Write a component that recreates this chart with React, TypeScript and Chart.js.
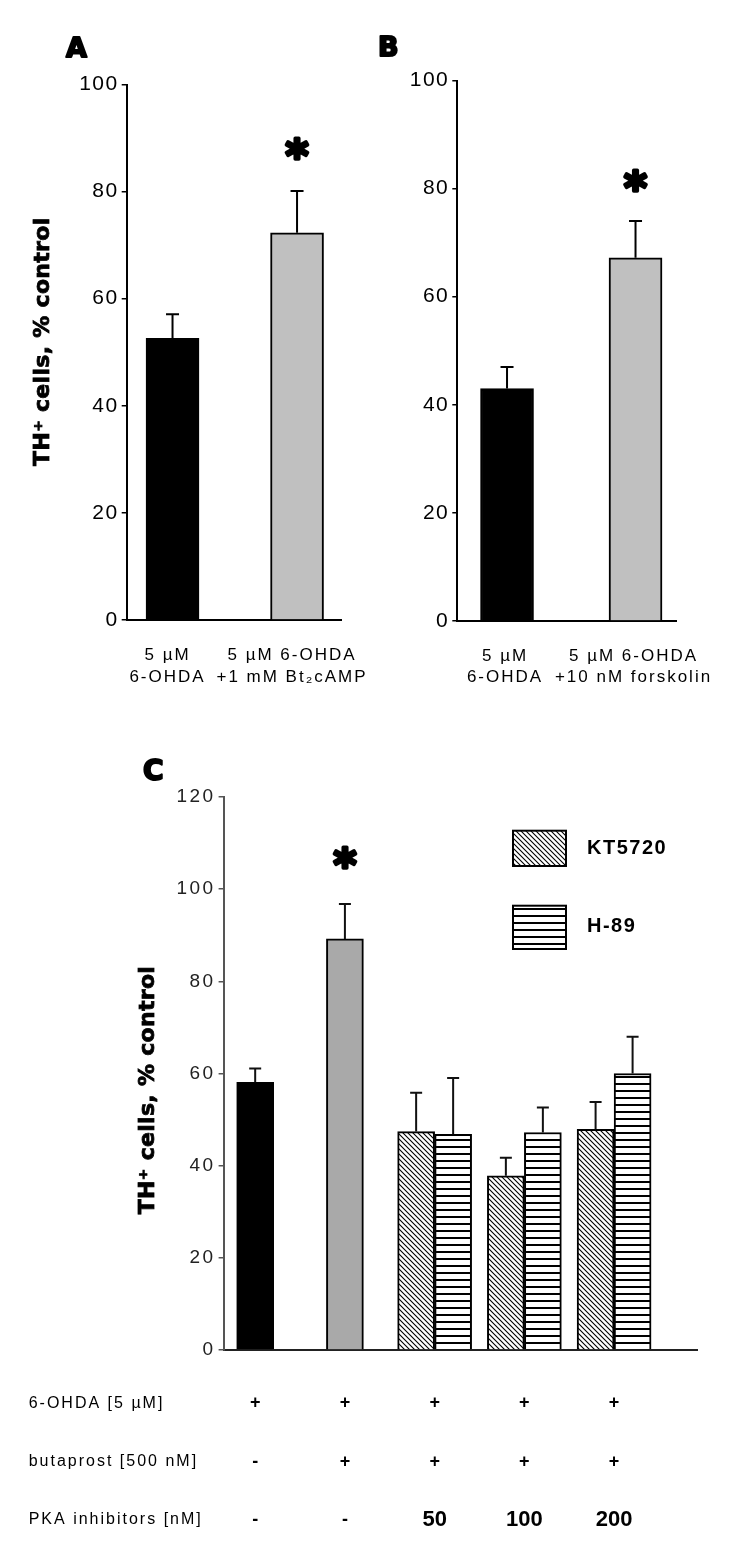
import React, { useEffect, useRef } from "react";
import { Chart, registerables } from "chart.js";

Chart.register(...registerables);

// ---------------- Panel A ----------------
const categoriesA = [["5 µM", "6-OHDA"], ["5 µM 6-OHDA", "+1 mM Bt₂cAMP"]];
const valuesA = [52.6, 72.3];
const semA = [4.5, 7.8];
const significantA = [false, true];

// ---------------- Panel B ----------------
const categoriesB = [["5 µM", "6-OHDA"], ["5 µM 6-OHDA", "+10 nM forskolin"]];
const valuesB = [43.0, 67.2];
const semB = [4.0, 6.8];
const significantB = [false, true];

// ---------------- Panel C ----------------
const singleC = [58.1, 89.2, null, null, null];
const singleSemC = [3.0, 7.6, null, null, null];
const kt5720C = [null, null, 47.4, 37.8, 47.9];
const kt5720SemC = [null, null, 8.4, 3.9, 5.9];
const h89C = [null, null, 46.8, 47.2, 60.0];
const h89SemC = [null, null, 12.2, 5.4, 8.0];
const significantC = [false, true, false, false, false];

const seriesNamesC = ["KT5720", "H-89"];
const rowLabelsC = ["6-OHDA [5 µM]", "butaprost [500 nM]", "PKA inhibitors [nM]"];
const ohdaRowC = ["+", "+", "+", "+", "+"];
const butaprostRowC = ["-", "+", "+", "+", "+"];
const pkaRowC = ["-", "-", "50", "100", "200"];

const yTitle = "TH⁺ cells, % control";
const ticksAB = { min: 0, max: 100, step: 20 };
const ticksC = { min: 0, max: 120, step: 20 };

// ---------------- helpers ----------------
const SANS = '"Liberation Sans", Arial, sans-serif';
const HEAVY = '"DejaVu Sans", "Liberation Sans", sans-serif';

function makePattern(ctx: CanvasRenderingContext2D, kind: string) {
  const c = document.createElement("canvas");
  const g = c.getContext("2d") as CanvasRenderingContext2D;
  if (kind === "diag") {
    const s = 5;
    c.width = s;
    c.height = s;
    g.fillStyle = "#fff";
    g.fillRect(0, 0, s, s);
    g.strokeStyle = "#000";
    g.lineWidth = 1.1;
    g.beginPath();
    g.moveTo(-1, -1);
    g.lineTo(s + 1, s + 1);
    g.moveTo(-1, s - 1);
    g.lineTo(1, s + 1);
    g.moveTo(s - 1, -1);
    g.lineTo(s + 1, 1);
    g.stroke();
  } else {
    c.width = 8;
    c.height = 7;
    g.fillStyle = "#fff";
    g.fillRect(0, 0, 8, 7);
    g.fillStyle = "#000";
    g.fillRect(0, 0, 8, 2);
  }
  return ctx.createPattern(c, "repeat") as CanvasPattern;
}

function drawText(
  ctx: any,
  s: string,
  x: number,
  y: number,
  font: string,
  align: string = "center",
  color: string = "#000",
  spacing: string = "0px"
) {
  ctx.save();
  ctx.font = font;
  ctx.textAlign = align;
  ctx.textBaseline = "middle";
  ctx.fillStyle = color;
  ctx.letterSpacing = spacing;
  ctx.fillText(s, x, y);
  ctx.restore();
}

function drawRotated(ctx: any, s: string, cx: number, cy: number, font: string) {
  ctx.save();
  ctx.translate(cx, cy);
  ctx.rotate(-Math.PI / 2);
  ctx.font = font;
  ctx.textAlign = "center";
  ctx.textBaseline = "middle";
  ctx.letterSpacing = "0.3px";
  ctx.fillStyle = "#000";
  ctx.strokeStyle = "#000";
  ctx.lineWidth = 0.8;
  ctx.fillText(s, 0, 0);
  ctx.strokeText(s, 0, 0);
  ctx.restore();
}

function drawLetter(ctx: any, s: string, x: number, baseline: number, size: number) {
  ctx.save();
  ctx.font = `bold ${size}px ${HEAVY}`;
  ctx.textAlign = "left";
  ctx.textBaseline = "alphabetic";
  ctx.letterSpacing = "0px";
  ctx.fillStyle = "#000";
  ctx.strokeStyle = "#000";
  ctx.lineWidth = 2;
  ctx.lineJoin = "round";
  ctx.fillText(s, x, baseline);
  ctx.strokeText(s, x, baseline);
  ctx.restore();
}

function drawStar(ctx: any, x: number, cy: number, size: number) {
  ctx.save();
  ctx.font = `bold ${size}px ${HEAVY}`;
  ctx.textAlign = "center";
  ctx.textBaseline = "alphabetic";
  ctx.letterSpacing = "0px";
  const m = ctx.measureText("*");
  const base = cy + (m.actualBoundingBoxAscent - m.actualBoundingBoxDescent) / 2;
  ctx.fillStyle = "#000";
  ctx.strokeStyle = "#000";
  ctx.lineWidth = 3.5;
  ctx.lineJoin = "round";
  ctx.fillText("*", x, base);
  ctx.strokeText("*", x, base);
  ctx.restore();
}

function drawErrorBars(chart: any, sems: (number | null)[][], color: string, capW: number, lw: number) {
  const ctx = chart.ctx;
  const yScale = chart.scales.y;
  ctx.save();
  ctx.strokeStyle = color;
  ctx.lineWidth = lw;
  chart.data.datasets.forEach((ds: any, di: number) => {
    const meta = chart.getDatasetMeta(di);
    meta.data.forEach((el: any, i: number) => {
      const v = ds.data[i].y;
      const s = sems[di][i];
      if (v == null || s == null) return;
      const top = yScale.getPixelForValue(v + s);
      ctx.beginPath();
      ctx.moveTo(el.x, el.y);
      ctx.lineTo(el.x, top);
      ctx.moveTo(el.x - capW / 2, top);
      ctx.lineTo(el.x + capW / 2, top);
      ctx.stroke();
    });
  });
  ctx.restore();
}

// ---------------- Panel A/B config ----------------
function simpleConfig(spec: any) {
  const { W, H, area } = spec;
  const plugin = {
    id: "decor" + spec.letter.toLowerCase(),
    beforeDraw(chart: any) {
      chart.ctx.letterSpacing = "1.5px";
    },
    afterDatasetsDraw(chart: any) {
      drawErrorBars(chart, [spec.sem], "#000", 13, 2);
    },
    afterDraw(chart: any) {
      const ctx = chart.ctx;
      const xs = chart.scales.x;
      const ys = chart.scales.y;
      spec.categories.forEach((lines: string[], i: number) => {
        const x = xs.getPixelForValue(i) + spec.labelShift;
        lines.forEach((ln: string, k: number) => {
          drawText(ctx, ln, x, chart.chartArea.bottom + spec.labelLines[k], `17px ${SANS}`, "center", "#000", "2px");
        });
      });
      spec.significant.forEach((sig: boolean, i: number) => {
        if (!sig) return;
        const top = ys.getPixelForValue(spec.values[i] + spec.sem[i]);
        drawStar(ctx, xs.getPixelForValue(i), top - spec.starGap, 44);
      });
      drawLetter(ctx, spec.letter, spec.letterX, spec.letterBaseline, 27);
      if (spec.title) {
        drawRotated(ctx, yTitle, spec.title.x, spec.title.y, `bold 22px ${HEAVY}`);
      }
    },
  };
  return {
    type: "bar",
    data: {
      datasets: [
        {
          data: spec.values.map((v: number, i: number) => ({ x: i, y: v })),
          backgroundColor: ["#000000", "#c0c0c0"],
          borderColor: "#000",
          borderWidth: 2,
          barThickness: 53,
        },
      ],
    },
    options: {
      animation: false,
      responsive: false,
      devicePixelRatio: 1,
      layout: { padding: { left: 0, top: area.top, right: W - area.right, bottom: 0 } },
      plugins: { legend: { display: false }, tooltip: { enabled: false } },
      scales: {
        x: {
          type: "linear",
          min: spec.xMin,
          max: spec.xMax,
          offset: false,
          ticks: { display: false },
          grid: { display: false },
          border: { display: true, color: "#000", width: 2 },
          afterFit: (s: any) => {
            s.height = H - area.bottom;
          },
        },
        y: {
          min: ticksAB.min,
          max: ticksAB.max,
          ticks: { stepSize: ticksAB.step, color: "#000", padding: 3, font: { family: SANS, size: 21 } },
          grid: { display: true, drawOnChartArea: false, drawTicks: true, tickLength: 5, color: "#000", lineWidth: 1.5 },
          border: { display: true, color: "#000", width: 2 },
          afterFit: (s: any) => {
            s.width = area.left;
          },
        },
      },
    },
    plugins: [plugin],
  };
}

// ---------------- Panel C config ----------------
function configC(ctx: CanvasRenderingContext2D) {
  const W = 750;
  const H = 803;
  const area = { left: 223.6, top: 57, bottom: 610, right: 697 };
  const diag = makePattern(ctx, "diag");
  const horiz = makePattern(ctx, "horiz");
  const sems = [singleSemC, kt5720SemC, h89SemC];
  const legendBoxes = [
    { x: 513, y: 90.7, w: 53, h: 35.3, ty: 108.3 },
    { x: 513, y: 165.7, w: 53, h: 43.3, ty: 186.7 },
  ];
  const rowYs = [663.3, 721.7, 780];
  const plugin = {
    id: "decorc",
    beforeDraw(chart: any) {
      chart.ctx.letterSpacing = "2.5px";
    },
    afterDatasetsDraw(chart: any) {
      drawErrorBars(chart, sems, "#111", 12, 2);
    },
    afterDraw(chart: any) {
      const c = chart.ctx;
      const xs = chart.scales.x;
      const ys = chart.scales.y;
      // star
      significantC.forEach((sig: boolean, i: number) => {
        if (!sig) return;
        const top = ys.getPixelForValue((singleC[i] as number) + (singleSemC[i] as number));
        drawStar(c, xs.getPixelForValue(i), top - 46, 44);
      });
      // legend
      [1, 2].forEach((di, k) => {
        const b = legendBoxes[k];
        const ds = chart.data.datasets[di];
        c.save();
        c.fillStyle = ds.backgroundColor;
        c.fillRect(b.x, b.y, b.w, b.h);
        c.strokeStyle = "#000";
        c.lineWidth = 2;
        c.strokeRect(b.x, b.y, b.w, b.h);
        c.restore();
        drawText(c, ds.label, 587, b.ty, `bold 20px ${SANS}`, "left", "#000", "1.5px");
      });
      // table
      const rows = [ohdaRowC, butaprostRowC, pkaRowC];
      rowLabelsC.forEach((lab, r) => {
        drawText(c, lab, 28.7, rowYs[r], `16px ${SANS}`, "left", "#000", "2px");
        rows[r].forEach((s: string, i: number) => {
          const x = xs.getPixelForValue(i);
          const isNum = /\d/.test(s);
          const font = isNum ? `bold 22px ${SANS}` : `bold 18px ${SANS}`;
          drawText(c, s, x, rowYs[r], font, "center", "#000", "0px");
        });
      });
      drawLetter(c, "C", 143, 40, 28);
      drawRotated(c, yTitle, 148, 350, `bold 22px ${HEAVY}`);
    },
  };
  const idx = [0, 1, 2, 3, 4];
  return {
    type: "bar",
    data: {
      datasets: [
        {
          label: "6-OHDA ± butaprost",
          data: idx.map((i) => ({ x: i, y: singleC[i] })),
          backgroundColor: ["#000000", "#a9a9a9", "#000", "#000", "#000"],
          borderColor: "#000",
          borderWidth: 2,
          barThickness: 37,
          skipNull: true,
        },
        {
          label: seriesNamesC[0],
          data: idx.map((i) => ({ x: i, y: kt5720C[i] })),
          backgroundColor: diag,
          borderColor: "#000",
          borderWidth: 2,
          barThickness: 37,
          skipNull: true,
        },
        {
          label: seriesNamesC[1],
          data: idx.map((i) => ({ x: i, y: h89C[i] })),
          backgroundColor: horiz,
          borderColor: "#000",
          borderWidth: 2,
          barThickness: 37,
          skipNull: true,
        },
      ],
    },
    options: {
      animation: false,
      responsive: false,
      devicePixelRatio: 1,
      layout: { padding: { left: 0, top: area.top, right: W - area.right, bottom: 0 } },
      plugins: { legend: { display: false }, tooltip: { enabled: false } },
      scales: {
        x: {
          type: "linear",
          min: -0.352,
          max: 4.924,
          offset: false,
          ticks: { display: false },
          grid: { display: false },
          border: { display: true, color: "#222", width: 2 },
          afterFit: (s: any) => {
            s.height = H - area.bottom;
          },
        },
        y: {
          min: ticksC.min,
          max: ticksC.max,
          ticks: { stepSize: ticksC.step, color: "#222", padding: 3, font: { family: SANS, size: 19 } },
          grid: { display: true, drawOnChartArea: false, drawTicks: true, tickLength: 5, color: "#555", lineWidth: 1.5 },
          border: { display: true, color: "#555", width: 2 },
          afterFit: (s: any) => {
            s.width = area.left;
          },
        },
      },
    },
    plugins: [plugin],
  };
}

const specA = {
  letter: "A",
  categories: categoriesA,
  values: valuesA,
  sem: semA,
  significant: significantA,
  W: 375,
  H: 700,
  area: { left: 126.7, top: 84.5, bottom: 620, right: 341 },
  xMin: -0.368,
  xMax: 1.353,
  labelLines: [35, 57],
  labelShift: -5,
  starGap: 43,
  letterX: 66,
  letterBaseline: 57,
  title: { x: 43, y: 341.7 },
};

const specB = {
  letter: "B",
  categories: categoriesB,
  values: valuesB,
  sem: semB,
  significant: significantB,
  W: 375,
  H: 700,
  area: { left: 82.3, top: 80.5, bottom: 621, right: 301 },
  xMin: -0.387,
  xMax: 1.315,
  labelLines: [35, 56],
  labelShift: -2,
  starGap: 41,
  letterX: 3,
  letterBaseline: 56,
  title: null,
};

function ChartCanvas(props: { make: (ctx: CanvasRenderingContext2D) => any; left: number; top: number; w: number; h: number }) {
  const ref = useRef<HTMLCanvasElement>(null);
  useEffect(() => {
    const canvas = ref.current as HTMLCanvasElement;
    const ctx = canvas.getContext("2d") as CanvasRenderingContext2D;
    const chart = new Chart(canvas, props.make(ctx));
    return () => chart.destroy();
  }, []);
  return (
    <canvas
      ref={ref}
      width={props.w}
      height={props.h}
      style={{ position: "absolute", left: props.left, top: props.top, width: props.w, height: props.h }}
    />
  );
}

export default function App() {
  return (
    <div style={{ position: "absolute", left: 0, top: 0, width: 750, height: 1543, background: "#fff", overflow: "hidden" }}>
      <ChartCanvas make={() => simpleConfig(specA)} left={0} top={0} w={375} h={700} />
      <ChartCanvas make={() => simpleConfig(specB)} left={375} top={0} w={375} h={700} />
      <ChartCanvas make={(ctx) => configC(ctx)} left={0} top={740} w={750} h={803} />
    </div>
  );
}
